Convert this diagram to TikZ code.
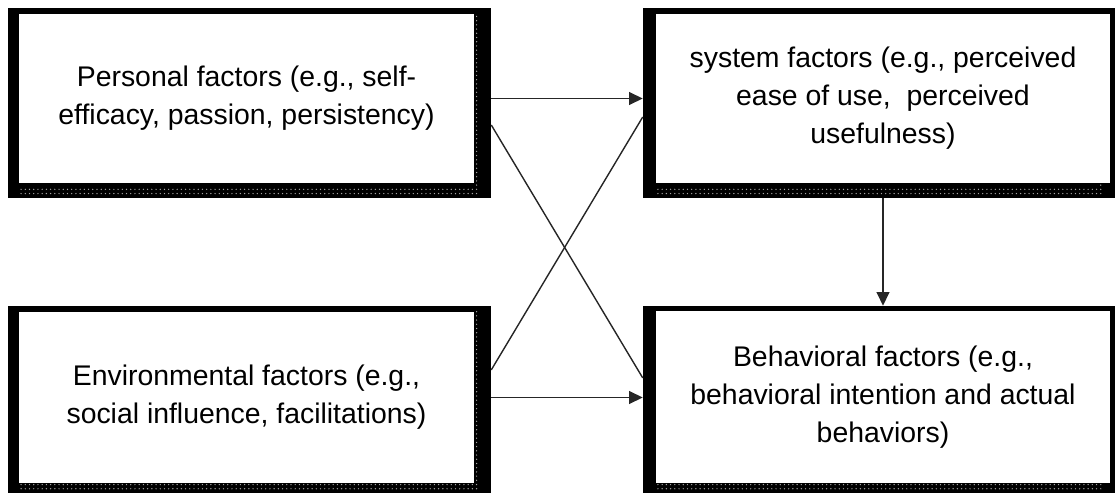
\documentclass[tikz,border=0pt]{standalone}
\usepackage{fontspec}
\setmainfont{Liberation Sans}
\usetikzlibrary{positioning,arrows.meta,patterns}

\begin{document}
\begin{tikzpicture}[
	frame/.style={fill=black,inner sep=0pt},
	face/.style={fill=white,inner sep=0pt,align=center,font=\fontsize{20.2}{27}\selectfont},
	conn/.style={line width=1pt,black!85},
	arr/.style={conn,-{Triangle[length=0.34cm,width=0.32cm]}}]
	\useasboundingbox (0,0) rectangle (27.875,-12.325);

	% Outer frames
	\node[frame,minimum width=12.075cm,minimum height=4.75cm]  (pers) at (6.2375,-2.575) {};
	\node[frame,minimum width=11.8cm,minimum height=4.75cm]    (sys)  at (21.975,-2.575) {};
	\node[frame,minimum width=12.075cm,minimum height=4.675cm] (env)  at (6.2375,-9.9875) {};
	\node[frame,minimum width=11.8cm,minimum height=4.675cm]   (beh)  at (21.975,-9.9875) {};

	% dotted strips on bottom and right of the frames
	\foreach \f in {pers,sys,env,beh}{
		\fill[pattern=dots, pattern color=gray!70] ([xshift=0.3cm,yshift=0.1cm]\f.south west) rectangle ([xshift=-0.3cm,yshift=0.3cm]\f.south east);
		\fill[pattern=dots, pattern color=gray!70] ([xshift=-0.38cm,yshift=-0.15cm]\f.north east) rectangle ([xshift=-0.3cm,yshift=0.3cm]\f.south east);
	}

	% Faces with the texts
	\node[face,minimum width=11.375cm,minimum height=4.225cm] (persT) at (6.1625,-2.4625)
		{Personal factors (e.g., self-\\efficacy, passion, persistency)};
	\node[face,minimum width=11.35cm,minimum height=4.225cm]  (sysT)  at (22.075,-2.4625)
		{system factors (e.g., perceived\\ease of use,\ \ perceived\\usefulness)};
	\node[face,minimum width=11.375cm,minimum height=4.275cm] (envT)  at (6.1625,-9.9375)
		{Environmental factors (e.g.,\\social influence, facilitations)};
	\node[face,minimum width=11.35cm,minimum height=4.3cm]    (behT)  at (22.075,-9.925)
		{Behavioral factors (e.g.,\\behavioral intention and actual\\behaviors)};

	% Connectors
	\draw[arr] (pers.east |- persT) -- (sys.west |- persT);
	\draw[arr] (env.east |- envT) -- (beh.west |- envT);
	\draw[arr] ([xshift=0.1cm]sys.south) -- ([xshift=0.1cm]beh.north);
	\draw[conn] ([yshift=-0.55cm]pers.east) -- ([yshift=0.54cm]beh.west);
	\draw[conn] ([yshift=0.74cm]env.east) -- ([yshift=-0.35cm]sys.west);
\end{tikzpicture}
\end{document}
